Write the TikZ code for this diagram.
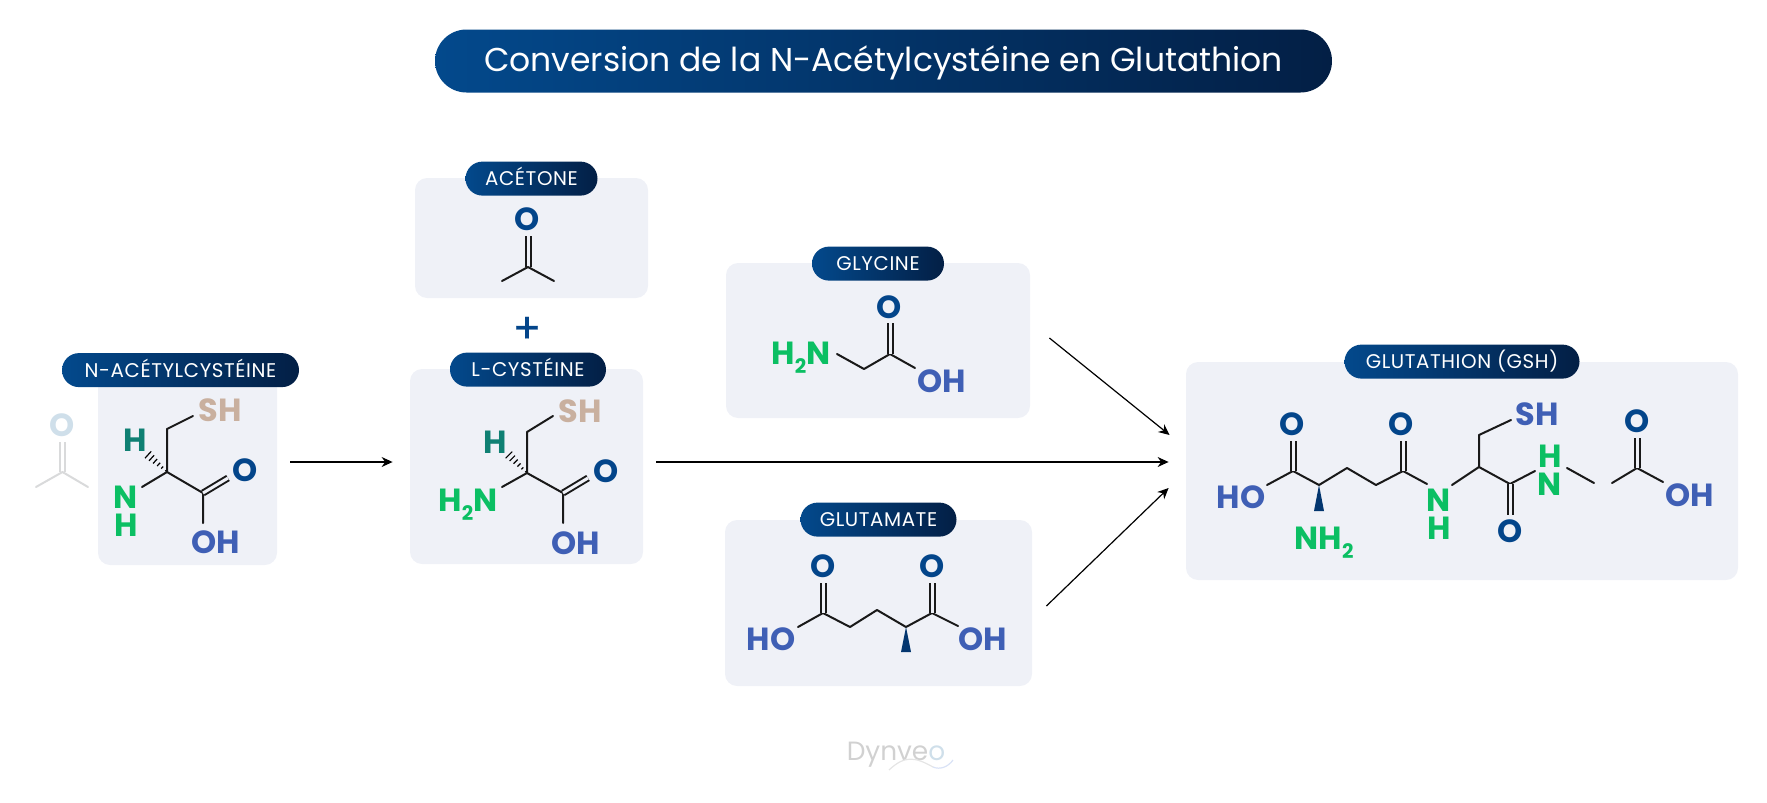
\documentclass[tikz,border=0pt]{standalone}
\usepackage{fontspec}
\setmainfont{Poppins}
\newfontfamily\pillfont{Poppins}[LetterSpace=3]
\usetikzlibrary{arrows.meta}
\usetikzlibrary{calc}
\usetikzlibrary{shapes.misc}
\definecolor{myboxfill}{HTML}{EFF1F7}
\definecolor{mydark}{HTML}{03366F}
\definecolor{mypillleft}{HTML}{03498C}
\definecolor{mypillright}{HTML}{031F45}
\definecolor{myoxygen}{HTML}{03458A}
\definecolor{myhydroxyl}{HTML}{3F5FB5}
\definecolor{mygreen}{HTML}{0BBF63}
\definecolor{myteal}{HTML}{0F8073}
\definecolor{mytan}{HTML}{C9B09F}
\definecolor{myghost}{HTML}{D9DADB}
\definecolor{myghostO}{HTML}{CFDFEA}
\tikzstyle{mybox}=[fill=myboxfill,rounded corners=6pt,inner sep=0pt]
\tikzstyle{mypill}=[rounded rectangle,left color=mypillleft,right color=mypillright,
                    text=white,inner sep=0pt,minimum height=17pt,text height=7pt,text depth=0pt,
                    font=\pillfont\fontsize{9.9}{11}\selectfont]
\tikzstyle{myatom}=[text=#1,inner sep=0pt,text height=12pt,text depth=0pt,
                    font=\fontsize{16}{16}\selectfont\bfseries]
\tikzstyle{mystack}=[text=#1,inner sep=0pt,align=center,
                     font=\fontsize{16}{14}\selectfont\bfseries]
\tikzstyle{mybond}=[black!90,line width=1pt,line cap=round,line join=round]
\tikzstyle{mydbond}=[mybond,double=myboxfill,double distance=1.5pt,line cap=butt]
\tikzstyle{mywedge}=[fill=mydark]
\tikzstyle{myarrow}=[-{Stealth[length=5.5pt,width=5pt]},black,line width=0.6pt]
\newcommand{\lowtwo}{\raisebox{-4.5pt}{\fontsize{10}{10}\selectfont 2}}
\newcommand{\hashbond}[2]{
  \foreach \t/\w in {0.06/0.3,0.22/0.7,0.38/1.1,0.54/1.5,0.70/1.9,0.86/2.3,1/2.7}{
    \draw[black,line width=0.6pt] ($($(#1)!\t!(#2)$)!\w pt!90:(#2)$) -- ($($(#1)!\t!(#2)$)!\w pt!-90:(#2)$);
  }
}

\begin{document}
\begin{tikzpicture}[x=0.5pt,y=-0.5pt]
  \useasboundingbox (0,0) rectangle (1767,803);

  % title
  \node[mypill,minimum width=448.5pt,minimum height=31.5pt,text height=10.5pt,font=\fontsize{16.5}{19}\selectfont] (title) at (883.5,61)
    {Conversion de la N-Acétylcystéine en Glutathion};

  % boxes
  \node[mybox,minimum width=89.5pt,minimum height=95pt] (nacbox) at (187.5,470) {};
  \node[mybox,minimum width=116.5pt,minimum height=60pt] (acebox) at (531.5,238) {};
  \node[mybox,minimum width=116.5pt,minimum height=97.5pt] (cysbox) at (526.5,466.5) {};
  \node[mybox,minimum width=152pt,minimum height=77.5pt] (glybox) at (878,340.5) {};
  \node[mybox,minimum width=153.5pt,minimum height=83pt] (glubox) at (878.5,603) {};
  \node[mybox,minimum width=276pt,minimum height=109pt] (gshbox) at (1462,471) {};

  % labels
  \node[mypill,minimum width=118.5pt] (naclabel) at ([xshift=-3.5pt,yshift=2.25pt]nacbox.north) {N-ACÉTYLCYSTÉINE};
  \node[mypill,minimum width=66pt] (acelabel) at ([yshift=-0.5pt]acebox.north) {ACÉTONE};
  \node[mypill,minimum width=78pt] (cyslabel) at ([xshift=0.75pt,yshift=-0.5pt]cysbox.north) {L-CYSTÉINE};
  \node[mypill,minimum width=66pt] (glylabel) at ([yshift=-0.5pt]glybox.north) {GLYCINE};
  \node[mypill,minimum width=78pt] (glulabel) at (glubox.north) {GLUTAMATE};
  \node[mypill,minimum width=117.5pt] (gshlabel) at (gshbox.north) {GLUTATHION (GSH)};

  % ghost acetone
  \node[myatom=myghostO] (ghostO) at (62,424) {O};
  \coordinate (ghostC) at (62.5,472);
  \draw[mybond,myghost,double=white,double distance=1.5pt,line cap=butt] (62.5,442) coordinate (ghostT) -- (ghostC);
  \draw[mybond,myghost] (36,487) coordinate (ghostL) -- (ghostC) -- (88,487) coordinate (ghostR);

  % n-acetylcysteine
  \node[myatom=mytan] (nacS) at (220,409) {SH};
  \node[myatom=myteal] (nacH) at (135,439) {H};
  \node[mystack=mygreen] (nacN) at (126,511.5) {N\\H};
  \node[myatom=myoxygen] (nacO) at (245,469) {O};
  \node[myatom=myhydroxyl] (nacOH) at (216,541) {OH};
  \coordinate (nac1) at (167,472);
  \coordinate (nac2) at (167,429);
  \coordinate (nac3) at (203,493);
  \draw[mybond] (193,416) coordinate (nacSe) -- (nac2) -- (nac1) -- (nac3) -- (203,523) coordinate (nacOHe);
  \draw[mybond] (142,487) coordinate (nacNe) -- (nac1);
  \draw[mydbond] (nac3) -- (228,478) coordinate (nacOe);
  \coordinate (nacHe) at (145,452);
  \hashbond{nac1}{nacHe}

  % acetone
  \node[myatom=myoxygen] (aceO) at (527,218) {O};
  \coordinate (aceC) at (528,267);
  \draw[mydbond] (528,236) coordinate (aceOe) -- (aceC);
  \draw[mybond] (502,281) coordinate (aceL) -- (aceC) -- (554,281) coordinate (aceR);
  \node[text=myoxygen,inner sep=0pt,font=\fontsize{21}{21}\selectfont\addfontfeature{FakeBold=0.4}] (plus) at (527,330) {+};

  % l-cysteine
  \node[myatom=mytan] (cysS) at (580,410) {SH};
  \node[myatom=myteal] (cysH) at (495,441) {H};
  \node[myatom=mygreen] (cysN) at (468,499) {H\lowtwo N};
  \node[myatom=myoxygen] (cysO) at (606,470) {O};
  \node[myatom=myhydroxyl] (cysOH) at (576,542) {OH};
  \coordinate (cys1) at (527,473);
  \coordinate (cys2) at (527,432);
  \coordinate (cys3) at (563,493);
  \draw[mybond] (553,416) coordinate (cysSe) -- (cys2) -- (cys1) -- (cys3) -- (563,523) coordinate (cysOHe);
  \draw[mybond] (502,487) coordinate (cysNe) -- (cys1);
  \draw[mydbond] (cys3) -- (588,478) coordinate (cysOe);
  \coordinate (cysHe) at (506,452);
  \hashbond{cys1}{cysHe}

  % glycine
  \node[myatom=mygreen] (glyN) at (801,352) {H\lowtwo N};
  \node[myatom=myoxygen] (glyO) at (889,306) {O};
  \node[myatom=myhydroxyl] (glyOH) at (942,380) {OH};
  \coordinate (gly1) at (864,369);
  \coordinate (gly2) at (890,354);
  \draw[mybond] (837,354) coordinate (glyNe) -- (gly1) -- (gly2) -- (915,368) coordinate (glyOHe);
  \draw[mydbond] (gly2) -- (890,323) coordinate (glyOe);

  % glutamate
  \node[myatom=myhydroxyl] (gluHO) at (771,638) {HO};
  \node[myatom=myhydroxyl] (gluOH) at (983,638) {OH};
  \node[myatom=myoxygen] (gluO1) at (823,565) {O};
  \node[myatom=myoxygen] (gluO2) at (932,565) {O};
  \coordinate (glu1) at (823,613);
  \coordinate (glu2) at (850,627);
  \coordinate (glu3) at (877,610);
  \coordinate (glu4) at (906,627);
  \coordinate (glu5) at (932,613);
  \draw[mybond] (798,627) coordinate (gluHOe) -- (glu1) -- (glu2) -- (glu3) -- (glu4) -- (glu5) -- (958,626) coordinate (gluOHe);
  \draw[mydbond] (glu1) -- (823,583) coordinate (gluO1e);
  \draw[mydbond] (glu5) -- (932,583) coordinate (gluO2e);
  \fill[mywedge] (glu4) -- (901,652) coordinate (gluWa) -- (911,652) coordinate (gluWb) -- cycle;

  % glutathion
  \node[myatom=myhydroxyl] (gshHO) at (1241,496) {HO};
  \node[myatom=myoxygen] (gshO1) at (1292,423) {O};
  \node[myatom=myoxygen] (gshO2) at (1401,423) {O};
  \node[myatom=mygreen] (gshN1) at (1324,537) {NH\lowtwo};
  \node[mystack=mygreen] (gshN2) at (1439,514) {N\\H};
  \node[myatom=myhydroxyl] (gshS) at (1537,413) {SH};
  \node[mystack=mygreen] (gshN3) at (1550,470) {H\\N};
  \node[myatom=myoxygen] (gshO3) at (1510,530) {O};
  \node[myatom=myoxygen] (gshO4) at (1637,420) {O};
  \node[myatom=myhydroxyl] (gshOH) at (1690,494) {OH};
  \coordinate (gsh1) at (1293,471);
  \coordinate (gsh2) at (1319,485);
  \coordinate (gsh3) at (1347,468);
  \coordinate (gsh4) at (1376,485);
  \coordinate (gsh5) at (1403,471);
  \coordinate (gsh6) at (1479,467);
  \coordinate (gsh7) at (1510,484);
  \coordinate (gsh8) at (1637,468);
  \draw[mybond] (1267,485) coordinate (gshHOe) -- (gsh1) -- (gsh2) -- (gsh3) -- (gsh4) -- (gsh5) -- (1427,484) coordinate (gshN2a);
  \draw[mybond] (1452,485) coordinate (gshN2b) -- (gsh6) -- (gsh7) -- (1535,471) coordinate (gshN3a);
  \draw[mybond] (gsh6) -- (1479,435) coordinate (gshCH) -- (1511,420) coordinate (gshSe);
  \draw[mybond] (1567,468) coordinate (gshN3b) -- (1594,483) coordinate (gshGap);
  \draw[mybond] (1612,483) coordinate (gshGapb) -- (gsh8) -- (1663,482) coordinate (gshOHe);
  \draw[mydbond] (gsh1) -- (1293,441) coordinate (gshO1e);
  \draw[mydbond] (gsh5) -- (1403,441) coordinate (gshO2e);
  \draw[mydbond] (gsh7) -- (1510,515) coordinate (gshO3e);
  \draw[mydbond] (gsh8) -- (1637,438) coordinate (gshO4e);
  \fill[mywedge] (gsh2) -- (1314,511) coordinate (gshWa) -- (1324,511) coordinate (gshWb) -- cycle;

  % arrows
  \draw[myarrow] ([xshift=6.5pt,yshift=4pt]nacbox.east) -- ([xshift=-8.5pt,yshift=2.25pt]cysbox.west);
  \draw[myarrow] ([xshift=6.5pt,yshift=2.25pt]cysbox.east) -- ([xshift=-8.5pt,yshift=4.5pt]gshbox.west);
  \draw[myarrow] ([xshift=9.5pt,yshift=1.25pt]glybox.east) -- ([xshift=-8pt,yshift=18pt]gshbox.west);
  \draw[myarrow] ([xshift=7pt,yshift=-1.5pt]glubox.east) -- ([xshift=-8.5pt,yshift=-8.5pt]gshbox.west);

  % logo
  \node[inner sep=0pt,text height=9pt,text depth=0pt,text=black!18,font=\fontsize{13.2}{13.2}\selectfont] (logo) at (896,751)
    {Dynve\textcolor{myghostO}{o}};
  \draw[black!10,line width=0.6pt] (889,770) coordinate (waveA) .. controls (905,755) and (915,757) .. (933,767) coordinate (waveB);
  \draw[green!25!blue!15,line width=0.6pt] (waveB) .. controls (940,770) and (948,767) .. (953,760) coordinate (waveC);
\end{tikzpicture}
\end{document}
